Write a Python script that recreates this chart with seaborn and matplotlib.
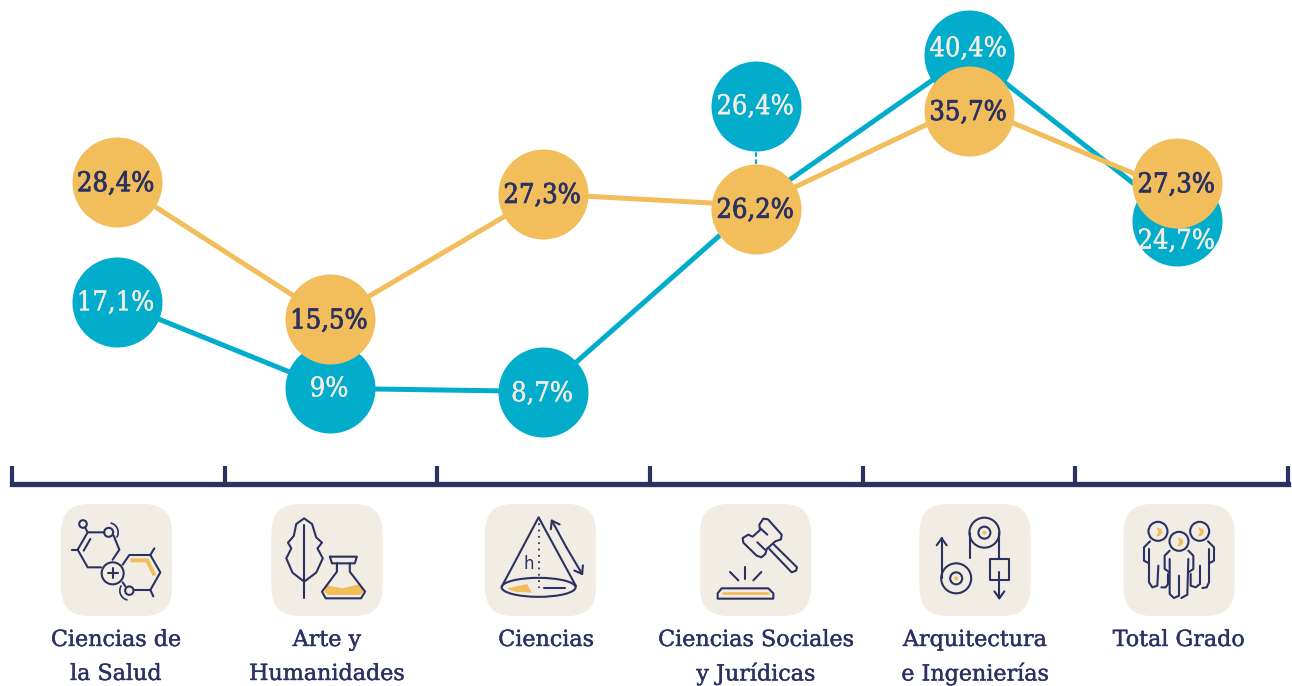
import numpy as np
import pandas as pd
import seaborn as sns
import matplotlib.pyplot as plt
import matplotlib.patheffects as pe
from matplotlib.patches import FancyBboxPatch, Circle, Polygon, Ellipse

# datos
categorias = ["Ciencias de\nla Salud", "Arte y\nHumanidades", "Ciencias",
              "Ciencias Sociales\ny Jurídicas", "Arquitectura\ne Ingenierías", "Total Grado"]
valores_azul = [17.1, 9, 8.7, 26.4, 40.4, 24.7]
valores_naranja = [28.4, 15.5, 27.3, 26.2, 35.7, 27.3]
etiquetas_azul = ["17,1%", "9%", "8,7%", "26,4%", "40,4%", "24,7%"]
etiquetas_naranja = ["28,4%", "15,5%", "27,3%", "26,2%", "35,7%", "27,3%"]

# desplazamiento de las burbujas respecto al punto, y del texto respecto a la burbuja
desp_azul = [0, 0, 0, 9.2, 0, 0]
desp_naranja = [0, 0, 0, -0.3, -0.6, 1.0]
texto_azul = [-0.05, -0.05, -0.2, -0.1, 0.55, -1.85]
dx_burbuja = [-0.002, 0, 0, 0, 0, -0.023]

AZUL = "#02ADCB"
NARANJA = "#F2BD5B"
MARINO = "#2B3262"
BEIGE = "#F1EDE5"
FUENTE = dict(family="DejaVu Serif", stretch="condensed")

sns.set_theme(style="white")
fig = plt.figure(figsize=(12.92, 6.86), dpi=100)
ax = fig.add_axes([0, 0, 1, 1])

df = pd.DataFrame({"x": np.arange(6), "azul": valores_azul, "naranja": valores_naranja})
sns.lineplot(data=df, x="x", y="azul", color=AZUL, linewidth=3.6, ax=ax, zorder=2)
sns.lineplot(data=df, x="x", y="naranja", color=NARANJA, linewidth=3.6, ax=ax, zorder=3)

df["x_b"] = df["x"] + np.array(dx_burbuja)
df["y_azul"] = df["azul"] + np.array(desp_azul)
df["y_naranja"] = df["naranja"] + np.array(desp_naranja)
sns.scatterplot(data=df, x="x_b", y="y_azul", color=AZUL, s=4200, linewidth=0, ax=ax, zorder=4)
sns.scatterplot(data=df, x="x_b", y="y_naranja", color=NARANJA, s=4200, linewidth=0, ax=ax, zorder=5)

# linea punteada de la burbuja desplazada
ax.plot([3, 3], [valores_azul[3] + 3.0, valores_azul[3] + 4.9], color=AZUL, lw=1.6, ls=(0, (2, 1.2)), zorder=3)

for i in range(6):
    ax.text(df["x_b"][i] - 0.004, df["y_azul"][i] + texto_azul[i], etiquetas_azul[i], color=BEIGE, fontsize=19.5,
            ha="center", va="center", zorder=7, path_effects=[pe.withStroke(linewidth=0.3, foreground=BEIGE)], **FUENTE)
    ax.text(df["x_b"][i] - 0.004, df["y_naranja"][i] - 0.15, etiquetas_naranja[i], color=MARINO, fontsize=19.5,
            ha="center", va="center", zorder=8, path_effects=[pe.withStroke(linewidth=0.6, foreground=MARINO)], **FUENTE)

# escala: x=0 en 117 px, 213 px por categoria; y=0 en 484 px, 10.63 px por punto
ax.set_xlim(-117 / 213, (1292 - 117) / 213)
ax.set_ylim(-(686 - 484) / 10.63, 484 / 10.63)
ax.set_xlabel("")
ax.set_ylabel("")
ax.set_yticks([])
marcas = (np.arange(7) * 212.67 + 12 - 117) / 213
ax.set_xticks(marcas)
ax.set_xticklabels([])
ax.tick_params(axis="x", direction="in", length=13, width=3, color=MARINO, bottom=True)
for lado in ["top", "left", "right"]:
    ax.spines[lado].set_visible(False)
ax.spines["bottom"].set_position(("data", 0))
ax.spines["bottom"].set_bounds(marcas[0], marcas[-1])
ax.spines["bottom"].set_color(MARINO)
ax.spines["bottom"].set_linewidth(3.8)
ax.patch.set_alpha(0)

# capa en pixeles para los iconos y los nombres de categoria
pix = fig.add_axes([0, 0, 1, 1], zorder=10)
pix.set_xlim(0, 1292)
pix.set_ylim(686, 0)
pix.axis("off")

LW = 1.5


def zoom_a(ox):
    return lambda p: [(ox + x / 2.41, 460 + y / 3) for x, y in p]


def caja(bx):
    return lambda p: [(bx + x / 3, 504 + y / 3) for x, y in p]


def linea(p, t, color=MARINO, lw=LW):
    q = np.array(t(p))
    pix.plot(q[:, 0], q[:, 1], color=color, lw=lw, solid_capstyle="round", solid_joinstyle="round")


def cerrado(p, t, fc="none", ec=MARINO):
    pix.add_patch(Polygon(t(p), closed=True, fc=fc, ec=ec, lw=LW if ec != "none" else 0, joinstyle="round"))


def circulo(x, y, r, t, fc="none", ec=MARINO):
    pix.add_patch(Circle(t([(x, y)])[0], r, fc=fc, ec=ec, lw=LW if ec != "none" else 0))


def arco(x, y, r, a0, a1, t):
    a = np.radians(np.linspace(a0, a1, 20))
    c = t([(x, y)])[0]
    pix.plot(c[0] + r * np.cos(a), c[1] + r * np.sin(a), color=MARINO, lw=1.2)


def flecha(p0, p1, t):
    linea([p0, p1], t)
    a = np.array(t([p0])[0])
    b = np.array(t([p1])[0])
    u = (b - a) / np.hypot(*(b - a))
    n = np.array([-u[1], u[0]])
    for e in (b - 7 * u + 5 * n, b - 7 * u - 5 * n):
        pix.plot([b[0], e[0]], [b[1], e[1]], color=MARINO, lw=LW, solid_capstyle="round")


# fondos
for cx in [116.5, 327, 540.5, 755.5, 975, 1179]:
    pix.add_patch(FancyBboxPatch((cx - 55.5 + 26, 504 + 26), 111 - 52, 112 - 52,
                                 boxstyle="round,pad=26,rounding_size=28", fc=BEIGE, ec="none"))

# icono 1: moleculas
t = caja(61)
cerrado([(208, 163), (262, 163), (286, 212), (275, 216), (255, 175), (208, 175)], t, fc=NARANJA, ec="none")
linea([(130, 85), (80, 85), (50, 137), (80, 190), (120, 190)], t)
linea([(158, 95), (175, 137), (155, 167)], t)
linea([(88, 105), (68, 140)], t)
linea([(33, 137), (50, 137)], t)
linea([(72, 70), (80, 85)], t)
circulo(66, 60, 3.8, t)
circulo(143, 85, 4.5, t)
arco(143, 85, 9.5, -75, 30, t)
circulo(155, 208, 11, t)
linea([(140, 208), (170, 208)], t)
linea([(155, 193), (155, 223)], t)
linea([(185, 182), (205, 153), (268, 153), (298, 205), (268, 258), (218, 258)], t)
linea([(185, 235), (193, 247)], t)
linea([(268, 153), (280, 133)], t)
linea([(268, 258), (277, 277)], t)
circulo(205, 260, 4.2, t)
arco(205, 260, 9.5, 105, 210, t)

# icono 2: hoja y matraz
t = zoom_a(0)
cerrado([(733, 175), (752, 192), (762, 232), (776, 248), (765, 265), (778, 295), (762, 338), (733, 365),
         (705, 338), (690, 295), (702, 265), (694, 248), (708, 228), (714, 192)], t)
linea([(733, 195), (733, 415)], t)
cerrado([(785, 375), (825, 385), (868, 372), (877, 395), (868, 405), (790, 405), (782, 395)], t, fc=NARANJA, ec="none")
linea([(795, 290), (860, 290), (855, 310), (800, 310), (795, 290)], t)
linea([(812, 310), (812, 335), (776, 395), (785, 415), (870, 415), (880, 395), (843, 335), (843, 310)], t)

# icono 3: cono
cerrado([(1222, 385), (1270, 372), (1282, 398), (1240, 395)], t, fc=NARANJA, ec="none")
linea([(1210, 378), (1298, 172), (1388, 378)], t)
pix.add_patch(Ellipse(t([(1298, 382)])[0], 74, 19, fc="none", ec=MARINO, lw=LW))
q = np.array(t([(1298, 172), (1298, 385)]))
pix.plot(q[:, 0], q[:, 1], color=MARINO, lw=1.3, ls=(0, (1, 2.5)))
linea([(1312, 383), (1362, 383)], t)
flecha((1365, 262), (1330, 182), t)
flecha((1365, 262), (1403, 342), t)
pix.text(*t([(1275, 312)])[0], "h", color=MARINO, fontsize=12, ha="center", va="center", family="DejaVu Sans")

# icono 4: mazo
t = caja(700)
cerrado([(178, 62), (190, 44), (204, 46), (245, 92), (243, 106), (226, 112), (200, 135), (196, 150), (184, 160),
         (170, 155), (130, 116), (128, 102), (145, 92), (158, 98), (180, 78)], t)
linea([(180, 72), (202, 92)], t)
linea([(172, 115), (195, 137)], t)
linea([(208, 135), (275, 205), (288, 200), (291, 190), (222, 122)], t)
linea([(136, 188), (136, 226)], t)
linea([(90, 204), (115, 229)], t)
linea([(184, 204), (160, 229)], t)
cerrado([(53, 284), (53, 268), (65, 253), (205, 253), (220, 268), (220, 284)], t)
linea([(68, 268), (205, 268)], t, color=NARANJA, lw=2)

# icono 5: poleas
t = zoom_a(640)
for x, y in [(830, 218), (762, 355)]:
    circulo(x, y, 15, t)
    circulo(x, y, 6, t)
    circulo(x, y, 2, t, fc=NARANJA, ec="none")
linea([(795, 218), (795, 295)], t)
linea([(866, 218), (866, 298)], t)
flecha((727, 355), (727, 235), t)
cerrado([(843, 298), (890, 298), (890, 360), (843, 360)], t)
flecha((866, 335), (866, 415), t)

# icono 6: personas
t = caja(1124)
for cx, cy in [(102, 82), (227, 82), (165, 112)]:
    circulo(cx, cy, 9.5, t)
    cerrado([(cx - 4, cy - 12), (cx + 10, cy - 7), (cx + 13, cy + 3), (cx + 6, cy + 13), (cx - 6, cy + 16), (cx + 1, cy + 3)],
            t, fc=NARANJA, ec="none")
linea([(78, 112), (60, 130), (60, 170), (75, 178)], t)
linea([(75, 135), (75, 235), (85, 250), (100, 245), (103, 185)], t)
linea([(112, 250), (125, 250), (132, 240), (132, 210)], t)
linea([(137, 140), (122, 155), (122, 195), (137, 205)], t)
linea([(137, 165), (137, 270), (150, 282), (165, 275), (165, 215)], t)
linea([(172, 282), (190, 272), (193, 165)], t)
linea([(193, 140), (208, 155), (208, 195), (193, 205)], t)
linea([(252, 112), (270, 130), (270, 170), (255, 178)], t)
linea([(255, 135), (255, 235), (248, 250), (235, 252)], t)
linea([(228, 185), (228, 240), (215, 250), (200, 245), (200, 210)], t)

# nombres de categoria
x_cat = [116, 327, 546, 756, 975, 1179]
for x, nombre in zip(x_cat, categorias):
    for j, linea_txt in enumerate(nombre.split("\n")):
        pix.text(x, 640 + j * 34, linea_txt, color=MARINO, fontsize=16, ha="center", va="center",
                 family="DejaVu Serif", path_effects=[pe.withStroke(linewidth=0.3, foreground=MARINO)])

fig.savefig("out.png", dpi=100)
